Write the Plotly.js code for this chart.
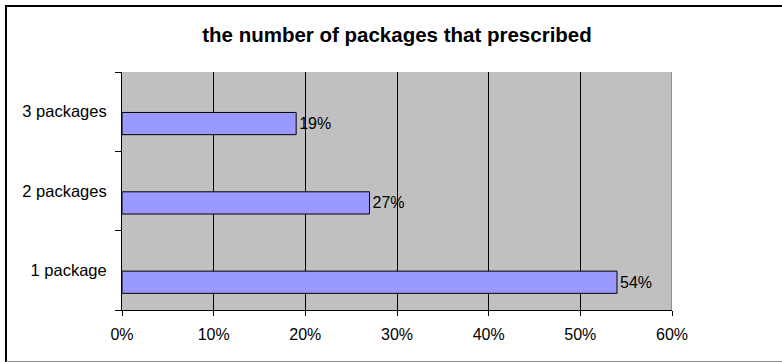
<!DOCTYPE html>
<html>
<head>
<meta charset="utf-8">
<script src="https://cdn.plot.ly/plotly-3.0.1.min.js"></script>
<style>
  html, body { margin: 0; padding: 0; background: #fff; }
  #wrap { position: relative; width: 782px; height: 362px; overflow: hidden; }
  #chart { position: absolute; left: 0; top: 0; width: 782px; height: 362px; }
  #frame {
    position: absolute; left: 5px; top: 5px; width: 800px; height: 354px;
    border-left: 2px solid #000; border-top: 2px solid #000;
    border-bottom: 1px solid #888; pointer-events: none;
  }
</style>
</head>
<body>
<div id="wrap">
  <div id="chart"></div>
  <div id="frame"></div>
</div>
<script>
// Share of prescriptions by number of packages
const categories = ['1 package', '2 packages', '3 packages'];
const shares = [54, 27, 19];
const xTicks = [0, 10, 20, 30, 40, 50, 60];
const xTickLabels = ['0%', '10%', '20%', '30%', '40%', '50%', '60%'];

const FONT = '"Liberation Sans", Arial, sans-serif';

const trace = {
  type: 'bar',
  orientation: 'h',
  y: categories,
  x: shares,
  width: 0.28,
  offset: -0.29,
  marker: { color: '#9999FF', line: { color: '#000', width: 1 } },
  text: shares.map(v => v + '%'),
  textposition: 'outside',
  textfont: { family: FONT, size: 16, color: '#000' },
  cliponaxis: false,
  hoverinfo: 'skip'
};

const layout = {
  width: 782,
  height: 362,
  margin: { l: 122, r: 110, t: 72, b: 52 },
  paper_bgcolor: '#fff',
  plot_bgcolor: '#C0C0C0',
  showlegend: false,
  font: { family: FONT, size: 16, color: '#000' },
  title: {
    text: '<b>the number of packages that prescribed</b>',
    font: { family: FONT, size: 20.5, color: '#000' },
    xref: 'paper', x: 0.5, xanchor: 'center',
    yref: 'container', y: 1 - 35 / 362, yanchor: 'middle'
  },
  xaxis: {
    range: [0, 60],
    tickmode: 'array',
    tickvals: xTicks,
    ticktext: xTickLabels,
    ticks: 'outside', ticklen: 5, tickcolor: '#000', tickwidth: 1,
    showgrid: true, gridcolor: '#000', gridwidth: 1,
    showline: true, linecolor: '#000', linewidth: 1,
    zeroline: false,
    tickfont: { family: FONT, size: 16, color: '#000' },
    ticklabelstandoff: 5,
    fixedrange: true
  },
  yaxis: {
    type: 'category',
    categoryorder: 'array',
    categoryarray: categories,
    range: [-0.5, 2.5],
    tickson: 'boundaries',
    ticks: 'outside', ticklen: 6, tickcolor: '#000', tickwidth: 1,
    showgrid: false,
    showline: true, linecolor: '#000', linewidth: 1,
    zeroline: false,
    tickfont: { family: FONT, size: 16.5, color: '#000' },
    ticklabelstandoff: 11,
    fixedrange: true
  },
  shapes: [
    // grey right edge of the plot area
    { type: 'line', xref: 'x', yref: 'paper', x0: 60, x1: 60, y0: 0, y1: 1,
      line: { color: '#808080', width: 1.5 }, layer: 'above' }
  ],
  bargap: 0
};

Plotly.newPlot('chart', [trace], layout, { displayModeBar: false, staticPlot: true });
</script>
</body>
</html>
